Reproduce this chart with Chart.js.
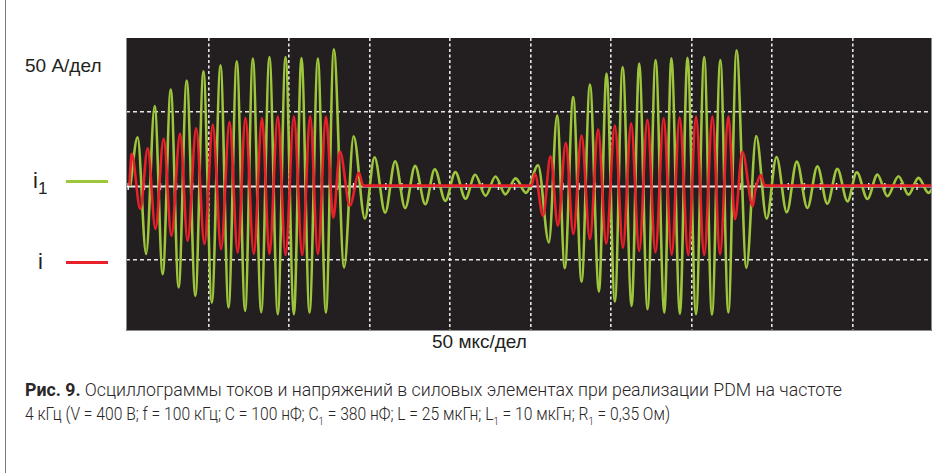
<!DOCTYPE html>
<html>
<head>
<meta charset="utf-8">
<script src="https://cdn.jsdelivr.net/npm/chart.js@4.4.1/dist/chart.umd.min.js"></script>
<style>
body{margin:0;width:944px;height:473px;background:#fff;position:relative;overflow:hidden;font-family:"Liberation Sans",Arial,sans-serif;color:#231f20}
.frame{position:absolute;left:5px;top:0;width:0;height:473px;border-left:1px solid #7a7a7a}
#plot{position:absolute;left:126px;top:38px}
.lbl{position:absolute;white-space:nowrap;line-height:1}
.swatch{position:absolute;left:66px;width:42px;height:3px}
.caption{position:absolute;left:25px;font-family:Roboto,"DejaVu Sans Condensed",sans-serif;font-weight:300;font-size:18px;white-space:nowrap;line-height:1;transform-origin:0 0;color:#2a2627}
.caption b{font-weight:700}
.caption sub{font-size:11px;line-height:0}
</style>
</head>
<body>
<div class="frame"></div>

<div class="lbl" style="left:25px;top:56px;font-size:19px">50 А/дел</div>
<div class="lbl" style="left:33px;top:170px;font-size:22px">i<span style="font-size:17px;position:relative;top:6px">1</span></div>
<div class="swatch" style="top:180px;background:#9ec63c"></div>
<div class="lbl" style="left:38px;top:251px;font-size:22px">i</div>
<div class="swatch" style="top:261px;background:#e8202a"></div>

<div class="lbl" style="left:432px;top:332px;font-size:19px">50 мкс/дел</div>

<div class="caption" id="cap1" data-w="817" style="top:381px"><b>Рис. 9.</b> Осциллограммы токов и напряжений в силовых элементах при реализации PDM на частоте</div>
<div class="caption" id="cap2" data-w="645" style="top:405px">4 кГц (V = 400 В; f = 100 кГц; C = 100 нФ; C<sub>1</sub> = 380 нФ; L = 25 мкГн; L<sub>1</sub> = 10 мкГн; R<sub>1</sub> = 0,35 Ом)</div>

<canvas id="plot" width="806" height="293"></canvas>

<script>
// time in microseconds, current in amperes (50 A/div, 50 us/div)
const i1Time = [1.3, 5.8, 11.1, 16.4, 21.4, 26.4, 31.3, 36.3, 41.7, 46.7, 51.9, 57.3, 62.3, 67.4, 72.6, 77.4,
    82.6, 87.7, 92.9, 97.7, 102.9, 107.6, 112.6, 117.8, 122.8, 127.7, 134.1, 140.0, 147.0, 153.0, 159.6, 165.8,
    172.0, 178.2, 184.5, 190.4, 197.0, 203.2, 209.5, 215.5, 222.0, 228.1, 234.3, 240.6, 247.1,
    254.6, 261.3, 266.4, 271.2, 276.4, 281.6, 286.8, 292.4, 297.1, 302.3, 307.1, 312.7, 317.4, 322.6, 327.6,
    333.0, 337.4, 342.7, 347.4, 352.7, 357.8, 362.6, 367.8, 372.8, 377.9, 384.0, 390.1, 396.6, 402.7, 409.1,
    415.3, 421.9, 428.1, 434.3, 440.5, 446.8, 452.6, 459.2, 465.4, 471.6, 478.5, 484.7, 490.9, 497.1, 500]
const i1Current = [0, 32.6, -46.1, 53.6, -59.7, 64.7, -68.7, 70.9, -74.3, 77.0, -78.9, 81.1, -82.2, 83.8, -84.5, 85.6,
    -85.3, 86.7, -86.7, 86.7, -86.7, 86.0, -85.6, 85.6, -85.6, 91.9, -55.2, 33.3, -22.3, 19.1, -18.2, 16.4,
    -15.2, 13.3, -12.6, 11.0, -10.3, 9.1, -8.8, 7.3, -6.9, 6.1, -5.9, 4.9, -4.9,
    13.7, -38.3, 47.3, -55.6, 59.7, -64.7, 68.2, -71.4, 75.5, -78.2, 80.0, -81.1, 82.2, -83.3, 84.7,
    -85.6, 85.8, -86.5, 86.1, -86.7, 86.7, -87.0, 84.7, -85.5, 91.2, -55.4, 33.4, -22.3, 19.3, -18.0,
    16.2, -15.1, 13.0, -12.2, 11.3, -10.6, 9.0, -9.0, 7.4, -7.2, 6.3, -6.1, 5.2, -4.9, -1.4]

const iTime = [0.7, 2.1, 7.5, 12.1, 16.9, 22.0, 26.8, 32.2, 36.9, 42.2, 47.3, 52.5, 57.7, 62.9, 68.0, 72.8,
    78.0, 83.1, 87.7, 92.9, 97.7, 102.9, 108.1, 113.0, 117.8, 122.8, 127.4, 131.5, 137.7, 143.3, 145.9,
    250.4, 252.6, 257.7, 262.3, 266.9, 271.8, 276.5, 281.6, 286.8, 291.9, 296.9, 302.3, 307.3, 312.4, 317.4,
    322.5, 327.5, 332.6, 337.6, 342.5, 347.9, 352.7, 357.8, 362.9, 367.6, 372.8, 376.9, 381.5, 387.9, 389.6,
    393.0, 395.3, 500]
const iCurrent = [0, 21.4, -15.7, 25.2, -29.3, 31.6, -33.8, 34.9, -37.2, 38.7, -39.4, 41.0, -42.8, 42.8, -45.1, 45.5,
    -46.1, 45.6, -46.1, 46.5, -46.8, 46.6, -46.8, 46.8, -46.1, 46.3, -21.6, 23.0, -13.5, 8.6, 0,
    0, 8.0, -20.3, 19.8, -27.0, 28.9, -32.6, 33.8, -36.1, 37.8, -39.1, 40.5, -41.9, 41.8, -44.1,
    44.3, -45.1, 45.4, -46.5, 45.9, -46.8, 46.5, -46.8, 46.5, -46.3, 46.6, -22.6, 22.8, -13.9, -3.0,
    7.1, 0, 0]

const timeGrid = [50, 100, 150, 200, 250, 300, 350, 400, 450]
const currentGrid = [-50, 50]
const minorStep = 10

const bg = '#231f20'
const greenColor = '#9ec63c'
const redColor = '#e8202a'

// squeeze the caption lines to the printed width
document.querySelectorAll('.caption').forEach(el => {
    const target = Number(el.dataset.w)
    const w = el.getBoundingClientRect().width
    if(w > 0){
        el.style.transform = 'scaleX(' + (target / w) + ')'
    }
})

function toPoints(xs, ys){
    return xs.map((x, k) => ({x, y: ys[k]}))
}

const scopePlugin = {
    id: 'scope',
    beforeDraw(chart){
        const {ctx, chartArea: a} = chart
        ctx.save()
        ctx.fillStyle = bg
        ctx.fillRect(a.left, a.top, a.right - a.left, a.bottom - a.top)
        ctx.restore()
    },
    beforeDatasetsDraw(chart){
        const {ctx, chartArea: a, scales} = chart
        const y0 = Math.round(scales.y.getPixelForValue(0)) + 0.5
        ctx.save()
        ctx.strokeStyle = '#ececec'
        ctx.lineWidth = 2
        ctx.beginPath()
        ctx.moveTo(a.left, y0)
        ctx.lineTo(a.right, y0)
        ctx.stroke()
        ctx.lineWidth = 1.5
        ctx.beginPath()
        for(let t = 0; t <= scales.x.max; t += minorStep){
            const x = scales.x.getPixelForValue(t)
            if(x < a.left + 2) continue
            ctx.moveTo(x, y0 - 3.5)
            ctx.lineTo(x, y0 + 3.5)
        }
        ctx.stroke()
        ctx.restore()
    },
    afterDraw(chart){
        const {ctx, chartArea: a} = chart
        ctx.save()
        ctx.strokeStyle = '#8c8c8c'
        ctx.lineWidth = 1
        ctx.beginPath()
        ctx.moveTo(a.left + 0.5, a.top)
        ctx.lineTo(a.left + 0.5, a.bottom - 0.5)
        ctx.lineTo(a.right - 0.5, a.bottom - 0.5)
        ctx.lineTo(a.right - 0.5, a.top)
        ctx.stroke()
        ctx.restore()
    }
}

new Chart(document.getElementById('plot'), {
    type: 'line',
    data: {
        datasets: [
            {
                label: 'i',
                data: toPoints(iTime, iCurrent),
                borderColor: redColor,
                borderWidth: 2.6,
                pointRadius: 0,
                cubicInterpolationMode: 'monotone',
                order: 0
            },
            {
                label: 'i1',
                data: toPoints(i1Time, i1Current),
                borderColor: greenColor,
                borderWidth: 2.6,
                pointRadius: 0,
                cubicInterpolationMode: 'monotone',
                order: 1
            }
        ]
    },
    options: {
        responsive: false,
        animation: false,
        devicePixelRatio: 1,
        layout: {padding: 0},
        plugins: {legend: {display: false}, tooltip: {enabled: false}},
        scales: {
            x: {
                type: 'linear',
                min: -1.4,
                max: 499.3,
                afterBuildTicks: s => { s.ticks = timeGrid.map(v => ({value: v})) },
                ticks: {display: false},
                grid: {color: '#e6e6e6', lineWidth: 1.6, drawTicks: false},
                border: {display: false, dash: [3, 2.5]}
            },
            y: {
                min: -98,
                max: 99.5,
                afterBuildTicks: s => { s.ticks = currentGrid.map(v => ({value: v})) },
                ticks: {display: false},
                grid: {color: '#e6e6e6', lineWidth: 1.6, drawTicks: false},
                border: {display: false, dash: [4, 3]}
            }
        }
    },
    plugins: [scopePlugin]
})
</script>
</body>
</html>
